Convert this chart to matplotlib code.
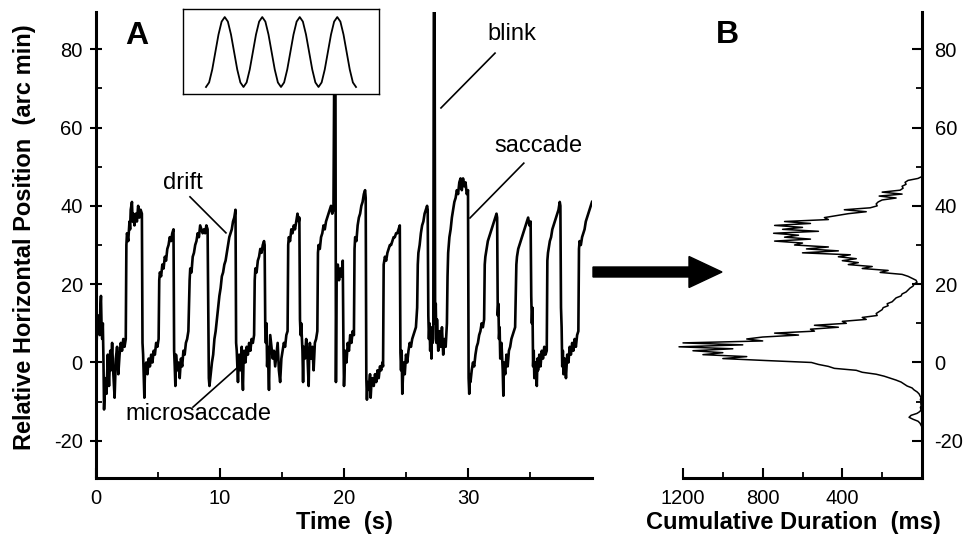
import matplotlib
matplotlib.use("Agg")
import matplotlib.pyplot as plt
from matplotlib.patches import FancyArrow
import numpy as np

plt.rcParams['font.family'] = ['Liberation Sans', 'DejaVu Sans']
plt.rcParams['axes.unicode_minus'] = False

# ---------------- data: panel A (eye position trace) ----------------
time_s = [
    0.00, 0.05, 0.10, 0.15, 0.20, 0.30, 0.35, 0.40, 0.45, 0.50, 0.55, 0.60, 0.65, 0.75, 0.85, 0.95,
    1.05, 1.15, 1.20, 1.30, 1.40, 1.50, 1.60, 1.70, 1.80, 1.90, 2.00, 2.10, 2.20, 2.30, 2.40,
    2.45, 2.50, 2.60, 2.70, 2.75, 2.80, 2.90, 2.95, 3.00, 3.10, 3.20, 3.30, 3.40, 3.50, 3.60, 3.70,
    3.75, 3.80, 3.90, 3.95, 4.05, 4.15, 4.25, 4.35, 4.45, 4.55, 4.65, 4.75, 4.85, 4.95, 5.05,
    5.10, 5.15, 5.25, 5.35, 5.45, 5.55, 5.65, 5.75, 5.85, 5.95, 6.05, 6.15, 6.25,
    6.30, 6.35, 6.40, 6.45, 6.55, 6.65, 6.75, 6.85, 6.95, 7.05, 7.15, 7.25, 7.35, 7.45,
    7.55, 7.60, 7.70, 7.80, 7.90, 8.00, 8.10, 8.20, 8.30, 8.40, 8.50, 8.60, 8.70, 8.80, 8.90, 9.00,
    9.10, 9.15, 9.25, 9.35, 9.45, 9.55, 9.65, 9.75, 9.85, 9.95, 10.05, 10.15, 10.25, 10.35, 10.45,
    10.55, 10.65, 10.75, 10.85, 10.95, 11.05, 11.15, 11.25,
    11.30, 11.35, 11.40, 11.45, 11.50, 11.55, 11.65, 11.75, 11.80, 11.85, 11.90, 11.95, 12.05, 12.15,
    12.25, 12.35, 12.45, 12.55, 12.65, 12.75,
    12.80, 12.85, 12.95, 13.05, 13.15, 13.25, 13.35, 13.45, 13.55, 13.60,
    13.65, 13.70, 13.75, 13.80, 13.85, 13.95, 14.00, 14.05, 14.15, 14.25, 14.35, 14.45, 14.55, 14.65,
    14.75, 14.85, 14.95, 15.05, 15.15, 15.25, 15.35, 15.45,
    15.50, 15.55, 15.65, 15.75, 15.85, 15.95, 16.05, 16.15, 16.25, 16.35, 16.40,
    16.45, 16.50, 16.55, 16.65, 16.70, 16.75, 16.85, 16.95, 17.05, 17.15, 17.20, 17.25, 17.35, 17.45,
    17.55, 17.65, 17.75, 17.85,
    17.90, 17.95, 18.05, 18.15, 18.25, 18.35, 18.45, 18.55, 18.65, 18.75, 18.85, 18.95, 19.05, 19.15,
    19.25, 19.30, 19.35, 19.40, 19.50, 19.60, 19.70, 19.80, 19.90,
    19.95, 20.00, 20.10, 20.20, 20.30, 20.40, 20.50, 20.60, 20.70, 20.80,
    20.85, 20.90, 21.00, 21.10, 21.20, 21.30, 21.40, 21.50, 21.60, 21.70, 21.75,
    21.80, 21.85, 21.90, 22.00, 22.10, 22.15, 22.20, 22.30, 22.40, 22.50, 22.60, 22.70, 22.80, 22.90,
    23.00, 23.10, 23.15,
    23.20, 23.30, 23.40, 23.50, 23.60, 23.70, 23.80, 23.90, 24.00, 24.10, 24.20, 24.30, 24.40, 24.50,
    24.55, 24.60, 24.65, 24.70, 24.80, 24.90, 25.00, 25.10, 25.20, 25.30, 25.40, 25.50, 25.60, 25.70,
    25.80, 25.90,
    25.95, 26.00, 26.10, 26.20, 26.30, 26.40, 26.50, 26.60, 26.70, 26.75,
    26.80, 26.85, 26.90, 26.95, 27.00, 27.05, 27.10, 27.15, 27.20, 27.25, 27.30, 27.35, 27.40, 27.45,
    27.50, 27.60, 27.70, 27.80, 27.90, 28.00, 28.10, 28.20,
    28.30, 28.35, 28.40, 28.50, 28.60, 28.70, 28.80, 28.90, 29.00, 29.10, 29.20, 29.30, 29.40, 29.50,
    29.60, 29.70, 29.80, 29.90, 30.00,
    30.05, 30.10, 30.15, 30.20, 30.30, 30.40, 30.50, 30.60, 30.70, 30.80, 30.90, 31.00, 31.10, 31.20,
    31.30,
    31.35, 31.40, 31.50, 31.60, 31.70, 31.80, 31.90, 32.00, 32.10, 32.20, 32.30, 32.35,
    32.40, 32.45, 32.50, 32.55, 32.60, 32.70, 32.80, 32.85, 32.90, 33.00, 33.10, 33.20, 33.30, 33.40,
    33.50, 33.60, 33.70, 33.80,
    33.90, 33.95, 34.05, 34.15, 34.25, 34.35, 34.45, 34.55, 34.65, 34.75, 34.85, 34.95, 35.05,
    35.10, 35.15, 35.20, 35.25, 35.30, 35.35, 35.45, 35.55, 35.60, 35.65, 35.75, 35.85, 35.95, 36.05,
    36.15, 36.25, 36.35,
    36.40, 36.45, 36.50, 36.60, 36.70, 36.80, 36.90, 37.00, 37.10, 37.20, 37.30, 37.40, 37.45,
    37.50, 37.55, 37.60, 37.65, 37.70, 37.80, 37.90, 38.00, 38.10, 38.20, 38.30, 38.40, 38.50, 38.60,
    38.70, 38.80, 38.90,
    38.95, 39.00, 39.10, 39.20, 39.30, 39.40, 39.50, 39.60, 39.70, 39.80, 39.90, 40.00,
]
position_arcmin = [
    -18, 5, 10, 8, 12, 7, 14, 17, 9, 6, 10, 1, -12, -4, -8, 2,
    -6, 3, -2, 5, -3, -9, 1, 4, -3, 2, 5, 3, 6, 4, 6,
    30, 33, 31, 36, 34, 39, 41, 36, 38, 35, 38, 36, 40, 37, 39, 38,
    5, 2, -9, -2, 0, -3, 1, -1, 2, 0, 3, 2, 5, 4, 6,
    21, 23, 22, 25, 24, 27, 26, 29, 30, 32, 31, 33, 34,
    3, -1, -6, 2, -2, 0, -4, 1, -1, 3, 2, 5, 6, 8,
    21, 24, 23, 27, 28, 30, 31, 33, 32, 35, 34, 33, 34, 33, 35, 34,
    -4, -6, -3, 0, 2, 6, 8, 11, 14, 17, 19, 22, 23, 25, 26,
    28, 30, 32, 33, 34, 36, 37, 39,
    5, 3, -1, -5, 0, 2, -2, 4, -3, -7, 1, 3, 0, 4,
    2, 5, 3, 6, 5, 7,
    21, 24, 23, 26, 27, 29, 28, 30, 31, 30,
    9, 5, 10, -1, 4, -7, 2, 7, 4, 1, 3, -1, 2, 5,
    -2, -5, 1, 3, 5, 4, 7, 8,
    30, 32, 31, 34, 33, 35, 34, 36, 38, 36, 37,
    11, 7, 10, 3, -5, 4, 1, 6, 2, -6, 3, 5, 1, 4,
    -2, 5, 6, 8,
    28, 30, 29, 32, 33, 35, 34, 36, 37, 38, 39, 40, 38, 39,
    95, 95, -5, 22, 25, 21, 24, 22, 26,
    6, -6, 3, 0, 5, 3, 7, 5, 8, 7,
    29, 32, 31, 35, 37, 38, 40, 41, 43, 44, 42,
    -4, -9.5, -5, -7, -3, -9, -6, -4, -6, -3, -5, -2, -4, -1,
    -2, 0, -1,
    25, 27, 26, 28, 29, 30, 30, 31, 32, 32, 33, 33, 34, 35,
    2.5, -2, 3, -8, 0, -3, 2, 0, 3, 5, 4, 6, 7, 8,
    9, 14,
    25, 28, 30, 33, 35, 36, 38, 39, 40, 39,
    12, 6, 10, 3, 8, 1, 9, 5, 6, 100, 100, 10, 15, 5,
    11, 3, 8, 4, 9, 2, 6, 4,
    10, 22, 28, 32, 34, 37, 39, 41, 42, 44, 43, 46, 47, 44,
    47, 45, 46, 43, 44,
    -4, -8, -3, -5, -2, 0, -1, 2, 4, 5, 7, 8, 10, 9,
    11,
    25, 27, 29, 31, 32, 33, 34, 35, 36, 37, 38, 37,
    12, 15, 6, 9, 1, 5, -2, -8.5, 0, -3, 2, -1, 3, 4,
    6, 7, 8, 9,
    25, 27, 29, 30, 31, 32, 33, 34, 35, 36, 37, 35, 36,
    17, 10, 14, -1, 3, -4, 0, -6, 1, -2, 2, -1, 3, 1,
    4, 2, 3,
    26, 28, 29, 31, 32, 34, 35, 36, 37, 38, 39, 41, 40,
    14, 9, -1, 3, -3, 1, -4, 2, 0, 4, 2, 5, 3, 6,
    4, 7, 8,
    29, 31, 30, 32, 33, 34, 36, 37, 38, 39, 40, 41,
]

# ---------------- data: panel B (cumulative duration per position bin) ----------------
bin_position_arcmin = [
    47.5, 47.0, 46.5, 46.0, 45.5, 45.0, 44.5, 44.0, 43.5, 43.0, 42.5, 42.0, 41.5, 41.0, 40.5, 40.0,
    39.5, 39.0, 38.5, 38.0, 37.5, 37.0, 36.5, 36.0, 35.5, 35.0, 34.5, 34.0, 33.5, 33.0, 32.5, 32.0,
    31.5, 31.0, 30.5, 30.0, 29.5, 29.0, 28.5, 28.0, 27.5, 27.0, 26.5, 26.0, 25.5, 25.0, 24.5, 24.0,
    23.5, 23.0, 22.5, 22.0, 21.5, 21.0, 20.5, 20.0, 19.5, 19.0, 18.5, 18.0, 17.5, 17.0, 16.5, 16.0,
    15.5, 15.0, 14.5, 14.0, 13.5, 13.0, 12.5, 12.0, 11.5, 11.0, 10.5, 10.0, 9.5, 9.0, 8.5, 8.0,
    7.5, 7.0, 6.5, 6.0, 5.5, 5.0, 4.5, 4.0, 3.5, 3.0, 2.5, 2.0, 1.5, 1.0, 0.5, 0.0,
    -0.5, -1.0, -1.5, -2.0, -2.5, -3.0, -3.5, -4.0, -4.5, -5.0, -5.5, -6.0, -6.5, -7.0, -7.5, -8.0,
    -8.5, -9.0, -9.5, -10.0, -10.5, -11.0, -11.5, -12.0, -12.5, -13.0, -13.5, -14.0, -14.5, -15.0,
    -15.5, -16.0, -16.5,
]
cumulative_ms = [
    0, 20, 70, 85, 80, 100, 95, 110, 200, 100, 215, 130, 200, 220, 230, 225,
    260, 390, 280, 370, 430, 490, 470, 690, 560, 740, 600, 700, 520, 745, 620, 690,
    560, 740, 600, 640, 470, 580, 420, 600, 360, 420, 330, 400, 320, 370, 250, 300,
    170, 210, 100, 70, 50, 30, 25, 40, 45, 60, 70, 80, 100, 105, 130, 140,
    150, 175, 170, 195, 200, 215, 230, 225, 300, 280, 400, 380, 540, 420, 560, 540,
    740, 620, 800, 880, 800, 1200, 900, 1220, 950, 1150, 1000, 1100, 880, 1000, 785, 555,
    520, 470, 440, 330, 300, 230, 190, 160, 130, 105, 90, 75, 50, 40, 25, 15,
    10, 5, 8, 3, 6, 4, 8, 5, 10, 25, 55, 65, 45, 20,
    10, 5, 0,
]

# ---------------- data: inset (stimulus oscillation, 4 cycles) ----------------
inset_level = [
    -1, -0.87, -0.5, 0, 0.5, 0.87, 1, 0.87, 0.5, 0, -0.5, -0.87,
    -1, -0.87, -0.5, 0, 0.5, 0.87, 1, 0.87, 0.5, 0, -0.5, -0.87,
    -1, -0.87, -0.5, 0, 0.5, 0.87, 1, 0.87, 0.5, 0, -0.5, -0.87,
    -1, -0.87, -0.5, 0, 0.5, 0.87, 1, 0.87, 0.5, 0, -0.5, -0.87,
    -1,
]
inset_phase = np.linspace(0, 4, len(inset_level))

x_ticks_A = [0, 10, 20, 30]
y_ticks = [-20, 0, 20, 40, 60, 80]
x_ticks_B = [1200, 800, 400]

# ---------------- figure layout ----------------
W, H = 967, 542
fig = plt.figure(figsize=(W / 100, H / 100), dpi=100)


def fx(px):
    return px / W


def fy(py):
    return 1 - py / H


TOP, BOT = 12, 478
YLIM = (-29.5, 89.5)
TICK_FS = 14.5
LABEL_FS = 17

# Panel A
axA = fig.add_axes([fx(96), fy(BOT), fx(592) - fx(96), fy(TOP) - fy(BOT)])
axA.plot(time_s, position_arcmin, color='black', lw=1.9, solid_joinstyle='round')
axA.set_xlim(0, 40)
axA.set_ylim(*YLIM)
for s in ['top', 'right']:
    axA.spines[s].set_visible(False)
for s in ['left', 'bottom']:
    axA.spines[s].set_linewidth(2.2)
axA.set_xticks(x_ticks_A)
axA.set_xticks([5, 15, 25, 35], minor=True)
axA.set_yticks(y_ticks)
axA.set_yticks([-10, 10, 30, 50, 70], minor=True)
axA.tick_params(axis='x', which='major', direction='in', length=7, width=1.5,
                labelsize=TICK_FS, pad=8)
axA.tick_params(axis='x', which='minor', direction='in', length=4, width=1.3)
axA.tick_params(axis='y', which='major', direction='inout', length=9, width=1.5,
                labelsize=TICK_FS, pad=5)
axA.tick_params(axis='y', which='minor', direction='in', length=4, width=1.3)

# Panel B
axB = fig.add_axes([fx(683), fy(BOT), fx(922) - fx(683), fy(TOP) - fy(BOT)])
axB.plot(cumulative_ms, bin_position_arcmin, color='black', lw=1.1, clip_on=False)
axB.set_xlim(1200, 0)
axB.set_ylim(*YLIM)
for s in ['top', 'left']:
    axB.spines[s].set_visible(False)
for s in ['right', 'bottom']:
    axB.spines[s].set_linewidth(2.2)
axB.yaxis.tick_right()
axB.set_xticks(x_ticks_B)
axB.set_xticks([1000, 600, 200], minor=True)
axB.set_yticks(y_ticks)
axB.set_yticks([-10, 10, 30, 50, 70], minor=True)
axB.tick_params(axis='x', which='major', direction='in', length=7, width=1.5,
                labelsize=TICK_FS, pad=8)
axB.tick_params(axis='x', which='minor', direction='in', length=4, width=1.3)
axB.tick_params(axis='y', which='major', direction='in', length=7, width=1.5,
                labelsize=TICK_FS, pad=9)
axB.tick_params(axis='y', which='minor', direction='in', length=4, width=1.3)

# Inset with stimulus sinusoid
axI = fig.add_axes([fx(183), fy(94), fx(379) - fx(183), fy(9) - fy(94)])
axI.set_facecolor('white')
axI.plot(inset_phase, inset_level, color='black', lw=1.3)
axI.set_xlim(-0.613, 4.613)
axI.set_ylim(-1.2, 1.23)
axI.set_xticks([])
axI.set_yticks([])
for s in axI.spines.values():
    s.set_linewidth(1.0)

# Annotations in panel A
ann_fs = 17
axA.text(7.02, 45.8, 'drift', fontsize=ann_fs, ha='center', va='center')
axA.plot([7.58, 10.48], [42.3, 33.1], color='black', lw=1.2)
axA.text(8.23, -13.2, 'microsaccade', fontsize=ann_fs, ha='center', va='center')
axA.plot([7.82, 11.37], [-11.4, -1.4], color='black', lw=1.2)
axA.text(33.55, 83.9, 'blink', fontsize=ann_fs, ha='center', va='center')
axA.plot([32.18, 27.82], [79.0, 65.0], color='black', lw=1.2)
axA.text(35.65, 55.3, 'saccade', fontsize=ann_fs, ha='center', va='center')
axA.plot([34.5, 30.16], [50.9, 36.9], color='black', lw=1.2)

# Panel letters
fig.text(fx(137), fy(36), 'A', fontsize=23, fontweight='bold', ha='center', va='center')
fig.text(fx(727), fy(35), 'B', fontsize=23, fontweight='bold', ha='center', va='center')

# Axis labels
fig.text(fx(344), fy(523), 'Time  (s)', fontsize=LABEL_FS, fontweight='bold',
         ha='center', va='center')
fig.text(fx(793), fy(523), 'Cumulative Duration  (ms)', fontsize=LABEL_FS,
         fontweight='bold', ha='center', va='center')
fig.text(fx(25), fy(237), 'Relative Horizontal Position  (arc min)', fontsize=LABEL_FS,
         fontweight='bold', ha='center', va='center', rotation=90)

# Big arrow between panels
arrow = FancyArrow(fx(593), fy(272), fx(722) - fx(593), 0,
                   width=10 / H, head_width=31 / H, head_length=33 / W,
                   length_includes_head=True, color='black',
                   transform=fig.transFigure, figure=fig)
fig.patches.append(arrow)

fig.savefig('out.png', dpi=100)
